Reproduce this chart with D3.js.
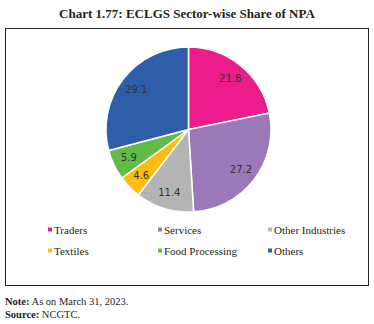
<!DOCTYPE html>
<html>
  <head>
    <meta charset="utf-8">
    <style>
      body { margin: 0; background: #fff; }
      text { font-family: "Liberation Serif", "DejaVu Serif", serif; }
    </style>
  </head>
  <body>
    <svg width="374" height="324"></svg>
    <script src="https://d3js.org/d3.v7.min.js"></script>
    <script>
    var sectors = ["Traders", "Services", "Other Industries", "Textiles", "Food Processing", "Others"];
    var shares = [21.8, 27.2, 11.4, 4.6, 5.9, 29.1];
    var colors = ["#ec1c8c", "#9b78b8", "#b4b4b4", "#fdbb14", "#62bb46", "#2e5da9"];

    var data = sectors.map(function(s, i) { return {sector: s, value: shares[i]}; });

    var svg = d3.select("svg");

    svg.append("text")
        .attr("x", 187).attr("y", 18)
        .attr("text-anchor", "middle")
        .style("font-size", "13px").style("font-weight", "bold").style("fill", "#231f20")
        .text("Chart 1.77: ECLGS Sector-wise Share of NPA");

    svg.append("rect")
        .attr("x", 5.5).attr("y", 28.5).attr("width", 363).attr("height", 257)
        .attr("fill", "none").attr("stroke", "#231f20").attr("stroke-width", 1);

    var color = d3.scaleOrdinal().domain(sectors).range(colors);
    var r = 82.5;
    var g = svg.append("g").attr("transform", "translate(188.5,129.5)");

    var pie = d3.pie().sort(null).value(function(d) { return d.value; });
    var arc = d3.arc().innerRadius(0).outerRadius(r);
    var labelArc = d3.arc().innerRadius(r * 0.8).outerRadius(r * 0.8);

    g.selectAll("path")
        .data(pie(data))
      .enter().append("path")
        .attr("d", arc)
        .attr("fill", function(d) { return color(d.data.sector); })
        .attr("stroke", "#fff").attr("stroke-width", 1.5);

    g.selectAll(".lbl")
        .data(pie(data))
      .enter().append("text")
        .attr("class", "lbl")
        .attr("transform", function(d) { return "translate(" + labelArc.centroid(d) + ")"; })
        .attr("text-anchor", "middle").attr("dy", "0.35em")
        .style("font-family", "'DejaVu Sans', Verdana, sans-serif")
        .style("font-size", "10px").style("fill", "#333")
        .text(function(d) { return d.data.value.toFixed(1); });

    var cols = [48, 158, 268];
    var legend = svg.selectAll(".leg")
        .data(data)
      .enter().append("g")
        .attr("transform", function(d, i) {
          return "translate(" + cols[i % 3] + "," + (230 + Math.floor(i / 3) * 21) + ")";
        });
    legend.append("rect")
        .attr("x", 0).attr("y", -2.5).attr("width", 4).attr("height", 4)
        .attr("fill", function(d) { return color(d.sector); });
    legend.append("text")
        .attr("x", 6).attr("dy", "0.35em")
        .style("font-size", "11px").style("fill", "#231f20")
        .text(function(d) { return d.sector; });

    var notes = [["Note:", " As on March 31, 2023."], ["Source:", " NCGTC."]];
    notes.forEach(function(n, i) {
      var t = svg.append("text")
          .attr("x", 5).attr("y", 305 + i * 13)
          .style("font-size", "10.5px").style("fill", "#231f20");
      t.append("tspan").style("font-weight", "bold").text(n[0]);
      t.append("tspan").text(n[1]);
    });
    </script>
  </body>
</html>
